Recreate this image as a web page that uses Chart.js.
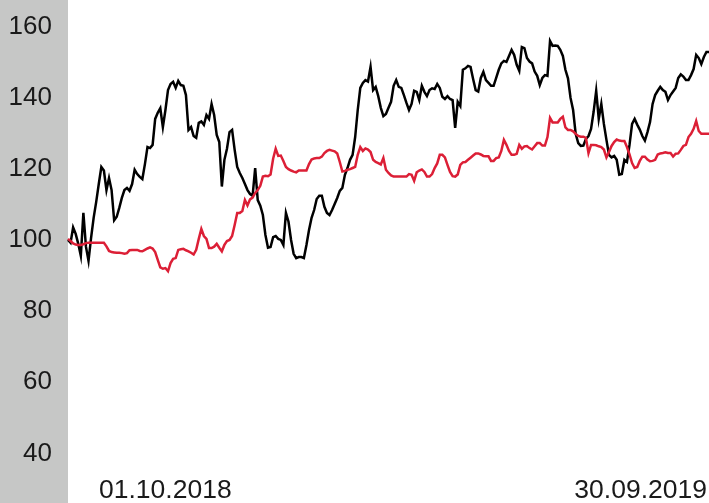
<!DOCTYPE html>
<html lang="de">
<head>
    <meta charset="UTF-8">
    <title>Kursverlauf</title>
    <script src="https://cdn.jsdelivr.net/npm/chart.js"></script>
    <style>
        html, body { margin: 0; padding: 0; background: #fff; }
        #grafico { display: block; }
    </style>
</head>
<body>
    <canvas id="grafico" width="709" height="503"></canvas>
<script>
    // Datumsangaben (Anfang / Ende)
    const dateLabels = ['01.10.2018', '30.09.2019']
    const yTicks = [40, 60, 80, 100, 120, 140, 160]

    // schwarze Linie (Aktie), indexiert auf 100
    const stockValues = [
        100.0, 99.2, 103.5, 101.7, 98.9, 95.5, 107.6, 98.1, 94.1, 100.6,
        106.2, 110.7, 115.7, 120.5, 119.5, 114.0, 117.4, 114.0, 105.5, 106.5,
        109.0, 111.8, 114.0, 114.6, 113.8, 115.7, 119.7, 118.5, 117.7, 117.1,
        121.3, 126.1, 125.8, 126.7, 134.0, 135.7, 137.0, 131.7, 136.5, 142.1,
        143.8, 144.4, 142.7, 144.7, 143.5, 143.3, 140.7, 130.9, 131.7, 129.2,
        128.7, 132.9, 133.3, 132.3, 135.1, 134.0, 138.2, 135.1, 129.5, 127.5,
        115.0, 122.5, 125.6, 130.3, 130.9, 125.3, 120.5, 118.8, 117.4, 115.7,
        114.0, 112.9, 112.4, 120.2, 111.2, 109.6, 107.0, 101.4, 97.8, 98.0,
        100.8, 101.1, 100.3, 100.0, 98.6, 107.6, 105.1, 100.0, 96.1, 94.9,
        95.2, 95.2, 94.9, 98.6, 102.8, 106.2, 108.4, 111.5, 112.4, 112.4,
        109.3, 107.6, 107.0, 108.4, 110.1, 111.8, 113.8, 114.6, 118.3, 120.2,
        122.5, 123.9, 128.9, 136.5, 142.7, 144.1, 144.9, 144.5, 148.6, 142.1,
        143.0, 140.4, 137.1, 134.8, 135.4, 137.1, 138.8, 143.3, 144.9, 143.0,
        142.7, 140.7, 138.5, 136.5, 138.2, 141.9, 141.6, 139.3, 143.3, 141.6,
        140.4, 142.1, 142.6, 142.4, 143.8, 142.7, 140.2, 139.6, 140.4, 139.6,
        139.3, 131.5, 138.8, 137.6, 147.8, 148.2, 148.9, 148.6, 145.2, 142.1,
        141.7, 145.5, 147.2, 144.9, 144.1, 143.3, 143.3, 145.5, 147.8, 149.6,
        150.3, 150.0, 151.7, 153.4, 152.0, 149.2, 147.5, 154.2, 153.9, 151.1,
        150.1, 149.6, 147.3, 146.1, 143.5, 145.5, 146.3, 146.1, 155.9, 154.5,
        154.6, 154.5, 153.4, 151.7, 147.8, 145.4, 139.9, 136.5, 129.8, 127.2,
        126.4, 126.5, 128.4, 129.2, 131.2, 136.0, 141.9, 134.0, 138.2, 132.6,
        128.1, 123.9, 123.2, 123.6, 122.5, 118.3, 118.5, 122.5, 121.9, 126.7,
        132.6, 134.0, 132.4, 131.0, 129.2, 127.9, 130.3, 133.1, 138.2, 140.7,
        141.9, 143.0, 142.1, 141.6, 139.3, 140.7, 141.7, 142.7, 145.5, 146.5,
        145.9, 144.9, 144.9, 146.3, 148.0, 152.0, 151.1, 149.4, 151.4, 152.8,
        152.8
    ]

    // rote Linie (Vergleichsindex)
    const indexValues = [
        100.3, 99.7, 99.0, 98.7, 98.6, 98.6, 98.8, 99.1, 99.2, 99.2,
        99.2, 99.2, 99.2, 99.2, 99.2, 98.2, 96.9, 96.6, 96.5, 96.4,
        96.4, 96.3, 96.1, 96.3, 97.1, 97.2, 97.2, 97.2, 96.9, 96.8,
        97.2, 97.6, 97.9, 97.6, 96.6, 94.4, 92.3, 91.9, 92.1, 91.2,
        93.5, 94.7, 94.9, 97.2, 97.4, 97.5, 97.1, 96.8, 96.4, 95.9,
        97.2, 100.3, 103.1, 101.1, 100.3, 97.7, 97.7, 98.1, 98.9, 97.8,
        96.8, 98.6, 99.7, 100.0, 101.1, 104.2, 107.6, 107.6, 108.1, 111.2,
        109.7, 111.4, 111.9, 113.2, 114.0, 115.2, 117.8, 118.0, 117.9, 118.4,
        122.8, 125.6, 123.6, 123.7, 122.2, 120.5, 119.9, 119.5, 119.2, 119.0,
        119.5, 119.5, 119.5, 119.5, 121.3, 122.6, 122.9, 123.0, 123.0, 123.4,
        124.4, 125.0, 125.3, 125.1, 124.9, 124.3, 121.9, 119.2, 119.4, 119.7,
        119.9, 120.2, 120.5, 123.9, 126.1, 125.0, 125.7, 125.4, 124.7, 122.5,
        121.9, 121.6, 121.2, 123.0, 119.7, 118.8, 118.1, 117.8, 117.8, 117.8,
        117.8, 117.8, 117.8, 118.5, 118.3, 116.6, 119.0, 119.5, 119.8, 119.1,
        117.8, 117.8, 118.5, 120.2, 121.5, 123.9, 123.9, 123.2, 121.1, 119.1,
        117.9, 117.8, 118.4, 121.1, 121.8, 121.9, 122.5, 123.1, 123.7, 124.3,
        124.3, 124.0, 123.6, 123.5, 123.5, 122.2, 122.2, 123.0, 123.2, 125.0,
        128.1, 126.7, 125.0, 123.9, 123.9, 124.2, 126.7, 125.6, 126.3, 126.4,
        125.8, 125.4, 126.3, 127.2, 127.2, 126.5, 126.5, 128.9, 134.3, 133.0,
        133.0, 133.0, 134.0, 134.6, 131.6, 130.9, 130.9, 130.5, 129.8, 129.2,
        129.0, 129.0, 128.7, 124.4, 126.7, 126.7, 126.6, 126.3, 126.1, 125.4,
        123.2, 124.7, 126.4, 127.5, 128.2, 127.9, 127.8, 127.8, 126.1, 124.0,
        121.6, 120.2, 120.5, 122.2, 123.4, 123.4, 122.6, 122.1, 122.2, 122.5,
        124.0, 124.3, 124.4, 124.6, 124.4, 124.4, 123.4, 124.2, 124.3, 125.3,
        126.4, 126.7, 128.9, 129.8, 131.2, 133.4, 130.6, 129.8, 129.8, 129.8,
        129.8
    ]

    const labels = stockValues.map((v, i) => i)

    const fundoCinza = {
        id: 'fundoCinza',
        beforeDraw(chart) {
            const ctx = chart.ctx
            ctx.save()
            ctx.fillStyle = '#c6c7c6'
            ctx.fillRect(0, 0, chart.chartArea.left, chart.height)
            ctx.restore()
        }
    }

    const datas = {
        id: 'datas',
        afterDraw(chart) {
            const ctx = chart.ctx
            const area = chart.chartArea
            ctx.save()
            ctx.font = '26.5px "Liberation Sans", Arial, sans-serif'
            ctx.fillStyle = '#1a1a1a'
            ctx.textBaseline = 'alphabetic'
            ctx.textAlign = 'left'
            ctx.fillText(dateLabels[0], area.left + 31, 498)
            ctx.textAlign = 'right'
            ctx.fillText(dateLabels[1], area.right - 2, 498)
            ctx.restore()
        }
    }

    new Chart(document.getElementById('grafico'), {
        type: 'line',
        data: {
            labels: labels,
            datasets: [{
                data: indexValues,
                borderColor: '#dc1f36',
                borderWidth: 2.5,
                pointRadius: 0,
                tension: 0
            }, {
                data: stockValues,
                borderColor: '#000000',
                borderWidth: 2.5,
                pointRadius: 0,
                tension: 0
            }]
        },
        options: {
            responsive: false,
            animation: false,
            devicePixelRatio: 1,
            layout: { padding: 0 },
            plugins: {
                legend: { display: false },
                tooltip: { enabled: false }
            },
            scales: {
                x: {
                    display: false,
                    offset: false
                },
                y: {
                    min: 26.1,
                    max: 167.4,
                    grid: { display: false, drawTicks: false },
                    border: { display: false },
                    afterFit(scale) {
                        scale.width = 68
                        scale.paddingTop = 0
                        scale.paddingBottom = 0
                    },
                    afterBuildTicks(scale) {
                        scale.ticks = yTicks.map(v => ({ value: v }))
                    },
                    ticks: {
                        padding: 16,
                        color: '#1a1a1a',
                        font: { family: '"Liberation Sans", Arial, sans-serif', size: 26 }
                    }
                }
            }
        },
        plugins: [fundoCinza, datas]
    });
</script>
</body>
</html>
